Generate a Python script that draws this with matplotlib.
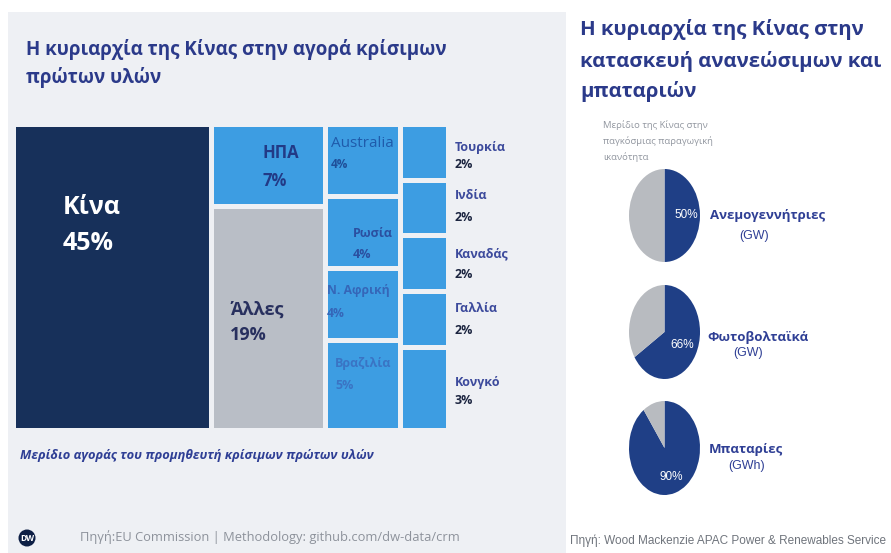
import matplotlib
matplotlib.use("Agg")
import matplotlib.pyplot as plt
from matplotlib.patches import Rectangle, Circle

plt.rcParams['font.family'] = ['Open Sans', 'Noto Sans', 'DejaVu Sans']

# ---------------- data ----------------
columns = [
    ["Κίνα"],
    ["ΗΠΑ", "Άλλες"],
    ["Australia", "Ρωσία", "Ν. Αφρική", "Βραζιλία"],
    ["Τουρκία", "Ινδία", "Καναδάς", "Γαλλία", "Κονγκό"],
]
column_values = [
    [45],
    [7, 19],
    [4, 4, 4, 5],
    [2, 2, 2, 2, 3],
]
pie_names = ["Ανεμογεννήτριες", "Φωτοβολταϊκά", "Μπαταρίες"]
pie_units = ["(GW)", "(GW)", "(GWh)"]
china_share = [50, 66, 90]

W, H = 891, 553
fig = plt.figure(figsize=(W / 100, H / 100), dpi=100)
fig.patch.set_facecolor("white")

def fx(x):
    return x / W

def fy(y):
    return 1 - y / H

def ftext(x, y, s, **kw):
    return fig.text(fx(x), fy(y), s, **kw)

def fit_width(t, target_px):
    r = fig.canvas.get_renderer()
    w = t.get_window_extent(renderer=r).width
    t.set_fontsize(t.get_fontsize() * target_px / w)

# left panel background
bg = fig.add_axes([0, 0, 1, 1], zorder=-5)
bg.set_xlim(0, W); bg.set_ylim(H, 0); bg.axis("off")
bg.add_patch(Rectangle((8, 12), 558, H - 12, facecolor="#eef0f4", edgecolor="none"))

TITLE = "#2b3a8a"
# left title
t = ftext(26, 50, "Η κυριαρχία της Κίνας στην αγορά κρίσιμων", fontsize=13.6,
          fontweight="bold", color=TITLE, va="center")
fit_width(t, 421)
ftext(26, 78, "πρώτων υλών", fontsize=t.get_fontsize(), fontweight="bold", color=TITLE,
      va="center")

# ---------------- treemap ----------------
gap = 5
x0p, x1p, y0p, y1p = 16 - gap / 2, 446 + gap / 2, 127 - gap / 2, 428 + gap / 2
tm = fig.add_axes([fx(x0p), fy(y1p), (x1p - x0p) / W, (y1p - y0p) / H])
total = sum(sum(c) for c in column_values)
tm.set_xlim(0, total); tm.set_ylim(1, 0); tm.axis("off")
dx = (gap / 2) / (x1p - x0p) * total
dy = (gap / 2) / (y1p - y0p)

DARK = "#17305a"; LIGHT = "#3d9de2"; GREY = "#b9bec6"
face = {"Κίνα": DARK, "Άλλες": GREY}

# label style: (x frac, name y frac, pct y frac, name size, pct size, name colour, pct colour, name weight)
style = {
    "Κίνα": (0.25, 0.27, 0.39, 18, 18, "white", "white", "bold"),
    "ΗΠΑ": (0.45, 0.34, 0.69, 12, 12, "#223a86", "#223a86", "bold"),
    "Άλλες": (0.165, 0.46, 0.575, 13, 13, "#28305e", "#28305e", "bold"),
    "Australia": (0.07, 0.27, 0.55, 11, 8.5, "#1f5bab", "#1f4f99", "normal"),
    "Ρωσία": (0.37, 0.51, 0.81, 9, 9, "#2b4fa0", "#2b4fa0", "bold"),
    "Ν. Αφρική": (0.02, 0.30, 0.62, 8.7, 8.7, "#3566b8", "#3566b8", "bold"),
    "Βραζιλία": (0.13, 0.25, 0.50, 9, 9, "#3a74c4", "#3a74c4", "bold"),
}
outside = {
    "Τουρκία": (0.42, 0.72),
    "Ινδία": (0.28, 0.68),
    "Καναδάς": (0.33, 0.70),
    "Γαλλία": (0.31, 0.70),
    "Κονγκό": (0.42, 0.64),
}

xstart = 0
for names, vals in zip(columns, column_values):
    cw = sum(vals)
    ystart = 0
    for name, v in zip(names, vals):
        h = v / cw
        rx, ry, rw, rh = xstart + dx, ystart + dy, cw - 2 * dx, h - 2 * dy
        tm.add_patch(Rectangle((rx, ry), rw, rh, facecolor=face.get(name, LIGHT),
                               edgecolor="none"))
        pct = f"{v}%"
        if name in style:
            sx, sy1, sy2, s1, s2, c1, c2, w1 = style[name]
            tm.text(xstart + sx * cw, ystart + sy1 * h, name, fontsize=s1, color=c1,
                    fontweight=w1, ha="left", va="center")
            tm.text(xstart + sx * cw, ystart + sy2 * h, pct, fontsize=s2, color=c2,
                    fontweight="bold", ha="left", va="center")
        else:
            oy1, oy2 = outside[name]
            lx = xstart + cw + dx * 2.4
            tm.text(lx, ystart + oy1 * h, name, fontsize=9, color="#3c4a9c",
                    fontweight="bold", ha="left", va="center", clip_on=False)
            tm.text(lx, ystart + oy2 * h, pct, fontsize=9, color="#1c2540",
                    fontweight="bold", ha="left", va="center", clip_on=False)
        ystart += h
    xstart += cw

t = ftext(20, 455, "Μερίδιο αγοράς του προμηθευτή κρίσιμων πρώτων υλών", fontsize=9.2,
          fontweight="bold", fontstyle="italic", color="#2f3f95", va="center")
fit_width(t, 353)

# DW logo + source
bg.add_patch(Circle((27, 538), 8.5, facecolor="#0d1f45", edgecolor="none"))
bg.text(27, 538.5, "DW", fontsize=6, color="white", fontweight="bold",
        ha="center", va="center")
t = ftext(80, 537, "Πηγή:EU Commission | Methodology: github.com/dw-data/crm", fontsize=9.2,
          color="#8d929b", va="center")
fit_width(t, 378)

# ---------------- right panel ----------------
rt = ftext(580, 30, "Η κυριαρχία της Κίνας στην", fontsize=14.7, fontweight="bold",
           color=TITLE, va="center")
fit_width(rt, 283)
rs = rt.get_fontsize()
ftext(580, 62, "κατασκευή ανανεώσιμων και", fontsize=rs, fontweight="bold",
      color=TITLE, va="center")
ftext(580, 92, "μπαταριών", fontsize=rs, fontweight="bold", color=TITLE, va="center")

for i, line in enumerate(["Μερίδιο της Κίνας στην", "παγκόσμιας παραγωγική", "ικανότητα"]):
    ftext(603, 125 + i * 16, line, fontsize=6.8, color="#9297a0", va="center")

NAVY = "#1f3f86"; PGREY = "#b8bbc0"
pie_boxes = [(629, 169, 71, 93), (629, 285, 71, 94), (629, 401, 71, 94)]
pct_pos = [(0.80, 0.5), (0.75, 0.64), (0.59, 0.81)]
name_pos = [(710, 216, 754, 236), (707, 337, 748, 353), (709, 450, 747, 466)]
for i, (bx, by, bw, bh) in enumerate(pie_boxes):
    ax = fig.add_axes([fx(bx), fy(by + bh), bw / W, bh / H])
    ax.pie([china_share[i], 100 - china_share[i]], colors=[NAVY, PGREY],
           startangle=90, counterclock=False, radius=1.0)
    ax.set_aspect("auto")
    ax.set_xlim(-1, 1); ax.set_ylim(-1, 1)
    ax.axis("off")
    px, py = pct_pos[i]
    ax.text(px * 2 - 1, 1 - py * 2, f"{china_share[i]}%", fontsize=8.5, color="white",
            ha="center", va="center", family=["Liberation Sans", "DejaVu Sans"])
    nx, ny, ux, uy = name_pos[i]
    ftext(nx, ny, pie_names[i], fontsize=9.5, fontweight="bold", color="#2f3f95",
          va="center")
    ftext(ux, uy, pie_units[i], fontsize=9, color="#2f3f95", ha="center", va="center",
          family=["Liberation Sans", "DejaVu Sans"])

t = fig.text(fx(570), fy(541), "Πηγή: Wood Mackenzie APAC Power & Renewables Service",
             fontsize=8, color="#6f747c", va="center",
             family=["Liberation Sans", "DejaVu Sans"])
fit_width(t, 316)

fig.savefig("out.png", dpi=100)
